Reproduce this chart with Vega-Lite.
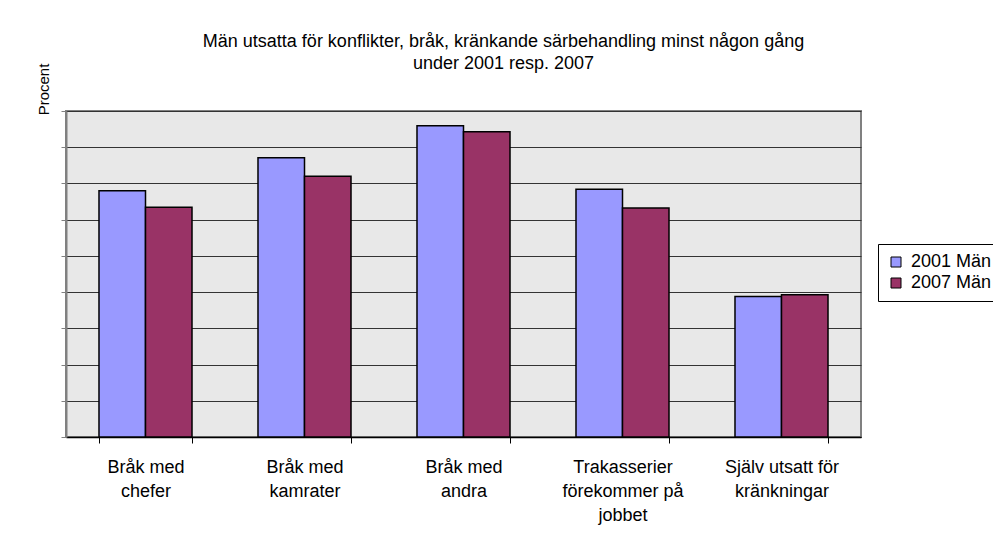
{
  "$schema": "https://vega.github.io/schema/vega-lite/v6.json",
  "autosize": "none",
  "width": 795,
  "height": 326,
  "padding": {"left": 66, "top": 111, "right": 132, "bottom": 109},
  "background": "white",
  "title": {
    "text": ["Män utsatta för konflikter, bråk, kränkande särbehandling minst någon gång", "under 2001 resp. 2007"],
    "font": "Liberation Sans",
    "fontSize": 18,
    "fontWeight": "normal",
    "color": "black",
    "lineHeight": 22,
    "anchor": "middle",
    "frame": "group",
    "offset": 0,
    "dy": 10,
    "dx": 40
  },
  "data": {
    "values": [
      {"kategori": "Bråk med\nchefer", "serie": "2001 Män", "varde": 6.80},
      {"kategori": "Bråk med\nchefer", "serie": "2007 Män", "varde": 6.34},
      {"kategori": "Bråk med\nkamrater", "serie": "2001 Män", "varde": 7.71},
      {"kategori": "Bråk med\nkamrater", "serie": "2007 Män", "varde": 7.20},
      {"kategori": "Bråk med\nandra", "serie": "2001 Män", "varde": 8.59},
      {"kategori": "Bråk med\nandra", "serie": "2007 Män", "varde": 8.43},
      {"kategori": "Trakasserier\nförekommer på\njobbet", "serie": "2001 Män", "varde": 6.84},
      {"kategori": "Trakasserier\nförekommer på\njobbet", "serie": "2007 Män", "varde": 6.32},
      {"kategori": "Själv utsatt för\nkränkningar", "serie": "2001 Män", "varde": 3.88},
      {"kategori": "Själv utsatt för\nkränkningar", "serie": "2007 Män", "varde": 3.93}
    ]
  },
  "mark": {"type": "bar", "stroke": "black", "strokeWidth": 1.5},
  "encoding": {
    "x": {
      "field": "kategori",
      "type": "nominal",
      "sort": null,
      "scale": {"paddingInner": 0.415, "paddingOuter": 0.2075},
      "axis": {
        "title": null,
        "labelAngle": 0,
        "labelExpr": "split(datum.label, '\\n')",
        "labelFont": "Liberation Sans",
        "labelFontSize": 18,
        "labelLineHeight": 24,
        "labelColor": "black",
        "labelPadding": 15,
        "tickBand": "extent",
        "tickSize": 6,
        "tickColor": "black",
        "domainColor": "black",
        "domainWidth": 1.5,
        "labelLimit": 200
      }
    },
    "xOffset": {"field": "serie", "type": "nominal", "scale": {"paddingInner": 0, "paddingOuter": 0}},
    "y": {
      "field": "varde",
      "type": "quantitative",
      "scale": {"domain": [0, 9], "nice": false},
      "axis": {
        "title": "Procent",
        "titleFont": "Liberation Sans",
        "titleFontSize": 15,
        "titleFontWeight": "normal",
        "titleColor": "black",
        "titleAngle": -90,
        "titleAlign": "center",
        "titleBaseline": "middle",
        "titleX": -23,
        "titleY": -22,
        "values": [0, 1, 2, 3, 4, 5, 6, 7, 8, 9],
        "labels": false,
        "tickSize": 5,
        "tickColor": "#808080",
        "domainColor": "#808080",
        "domainWidth": 2,
        "grid": true,
        "gridColor": "#333333",
        "gridWidth": 1
      }
    },
    "color": {
      "field": "serie",
      "type": "nominal",
      "scale": {"domain": ["2001 Män", "2007 Män"], "range": ["#9999ff", "#993366"]},
      "legend": {
        "title": null,
        "orient": "none",
        "legendX": 812,
        "legendY": 133,
        "strokeColor": "black",
        "fillColor": "white",
        "padding": 9,
        "labelFont": "Liberation Sans",
        "labelFontSize": 18,
        "labelColor": "black",
        "labelOffset": 6,
        "symbolType": "square",
        "symbolSize": 100,
        "symbolStrokeColor": "black",
        "symbolStrokeWidth": 1,
        "rowPadding": 3
      }
    }
  },
  "config": {
    "view": {"fill": "#e8e8e8", "stroke": "#808080", "strokeWidth": 2},
    "axis": {"gridDash": []}
  }
}
